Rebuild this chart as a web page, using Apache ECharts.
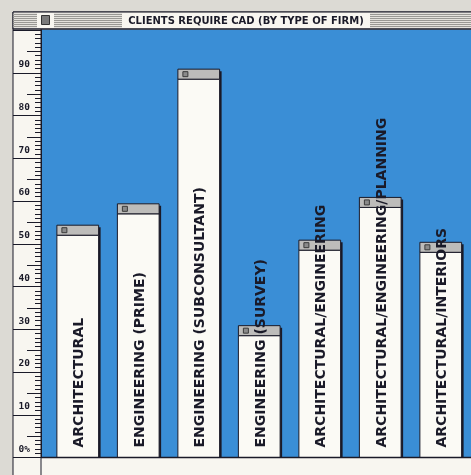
<!DOCTYPE html>
<html>
<head>
<meta charset="utf-8">
<script src="https://cdn.jsdelivr.net/npm/echarts@6/dist/echarts.min.js"></script>
<style>
  html, body { margin: 0; padding: 0; }
  #chart { width: 471px; height: 475px; }
</style>
</head>
<body>
<div id="chart"></div>
<script>
  // data (% of clients requiring CAD)
  var titleText = 'CLIENTS REQUIRE CAD (BY TYPE OF FIRM)'
  var categories = [
    'ARCHITECTURAL',
    'ENGINEERING (PRIME)',
    'ENGINEERING (SUBCONSULTANT)',
    'ENGINEERING (SURVEY)',
    'ARCHITECTURAL/ENGINEERING',
    'ARCHITECTURAL/ENGINEERING/PLANNING',
    'ARCHITECTURAL/INTERIORS'
  ]
  var values = [52, 57, 88.5, 28.5, 48.5, 58.5, 48]
  var yTicks = [0, 10, 20, 30, 40, 50, 60, 70, 80, 90]

  var ink = '#1a1a28'
  var blue = '#3a8ed6'
  var paper = '#f8f6f0'

  var myChart = echarts.init(document.getElementById('chart'))

  // bar with a grey "title bar" cap, like a little mac window
  function renderBar(params, api) {
    var i = api.value(0)
    var top = api.coord([i, api.value(1)])
    var base = api.coord([i, 0])
    var bw = api.size([1, 0])[0] * 0.69
    var x = top[0] - bw / 2
    var capH = 10
    var capY = top[1] - capH
    return {
      type: 'group',
      children: [{
        type: 'rect',
        shape: { x: x + 2, y: capY + 2, width: bw, height: base[1] - capY - 2 },
        style: { fill: ink }
      }, {
        type: 'rect',
        shape: { x: x, y: top[1], width: bw, height: base[1] - top[1] },
        style: { fill: '#fbfaf5', stroke: ink, lineWidth: 1 }
      }, {
        type: 'rect',
        shape: { x: x, y: capY, width: bw, height: capH },
        style: { fill: '#bdbcba', stroke: ink, lineWidth: 1 }
      }, {
        type: 'rect',
        shape: { x: x + 5, y: capY + 2.5, width: 5, height: 5 },
        style: { fill: '#8a8a8a', stroke: '#3a3a3a', lineWidth: 1 }
      }, {
        type: 'text',
        x: top[0] + 2,
        y: base[1] - 10,
        rotation: Math.PI / 2,
        style: {
          text: categories[i],
          x: 0,
          y: 0,
          align: 'left',
          verticalAlign: 'middle',
          fontFamily: 'DejaVu Sans',
          fontWeight: 'bold',
          fontSize: 14,
          fill: ink
        }
      }]
    }
  }

  var stripes = []
  for (var s = 0; s < 7; s++) {
    stripes.push({
      type: 'line', z: -5,
      shape: { x1: 13, y1: 14.5 + s * 2, x2: 471, y2: 14.5 + s * 2 },
      style: { stroke: '#999894', lineWidth: 1 }
    })
  }

  var option = {
    backgroundColor: '#dcdad4',
    animation: false,
    grid: {
      left: 47.5,
      right: -3,
      top: 30,
      bottom: 17.5
    },
    xAxis: {
      type: 'category',
      data: categories,
      axisLine: { show: false },
      axisTick: { show: false },
      axisLabel: { show: false }
    },
    yAxis: [{
      type: 'value',
      min: 0,
      max: 100,
      interval: 10,
      position: 'left',
      offset: 6.5,
      splitLine: { show: false },
      axisLine: { show: true, lineStyle: { color: ink, width: 1 } },
      axisTick: { show: true, length: 28, lineStyle: { color: ink, width: 1 } },
      minorTick: { show: true, splitNumber: 10, length: 6, lineStyle: { color: ink, width: 1 } },
      axisLabel: {
        margin: 11,
        verticalAlign: 'bottom',
        padding: [0, 0, 3, 0],
        fontFamily: 'DejaVu Sans Mono',
        fontWeight: 'bold',
        fontSize: 9.5,
        color: ink,
        formatter: function(v) {
          if (yTicks.indexOf(v) < 0) return ''
          return v === 0 ? '0%' : String(v)
        }
      }
    }, {
      // mid ticks every 5
      type: 'value',
      min: 0,
      max: 100,
      interval: 5,
      position: 'left',
      offset: 6.5,
      splitLine: { show: false },
      axisLine: { show: false },
      axisTick: { show: true, length: 14, lineStyle: { color: ink, width: 1 } },
      axisLabel: { show: false }
    }],
    graphic: [
      // window body + axis panel
      { type: 'rect', z: -10, shape: { x: 13, y: 12, width: 470, height: 470 },
        style: { fill: paper, stroke: ink, lineWidth: 1 } },
      // blue plot panel
      { type: 'rect', z: -9, shape: { x: 41, y: 29.5, width: 432, height: 428 },
        style: { fill: blue } },
      // title bar
      { type: 'rect', z: -6, shape: { x: 13, y: 12, width: 470, height: 17 },
        style: { fill: '#e4e2dd', stroke: ink, lineWidth: 1 } }
    ].concat(stripes).concat([
      { type: 'rect', z: -4, shape: { x: 122, y: 13, width: 248, height: 15 },
        style: { fill: paper } },
      { type: 'rect', z: -4, shape: { x: 37, y: 13, width: 17, height: 15 },
        style: { fill: paper } },
      { type: 'rect', z: -3, shape: { x: 41.5, y: 15.5, width: 8, height: 9 },
        style: { fill: '#7a7a7a', stroke: '#333', lineWidth: 1 } },
      { type: 'text', z: -2, x: 246, y: 21,
        style: { text: titleText, align: 'center', verticalAlign: 'middle',
          fontFamily: 'DejaVu Sans', fontWeight: 'bold', fontSize: 10, fill: ink } },
      // frame lines
      { type: 'line', z: 5, shape: { x1: 41, y1: 29, x2: 41, y2: 475 },
        style: { stroke: ink, lineWidth: 1 } },
      { type: 'line', z: 5, shape: { x1: 41, y1: 457.5, x2: 471, y2: 457.5 },
        style: { stroke: ink, lineWidth: 1.5 } },
      { type: 'line', z: 5, shape: { x1: 13, y1: 29, x2: 471, y2: 29 },
        style: { stroke: ink, lineWidth: 1 } }
    ]),
    series: [{
      type: 'custom',
      renderItem: renderBar,
      encode: { x: 0, y: 1 },
      clip: false,
      data: values.map(function(v, i) { return [i, v] })
    }]
  }

  myChart.setOption(option)
</script>
</body>
</html>
